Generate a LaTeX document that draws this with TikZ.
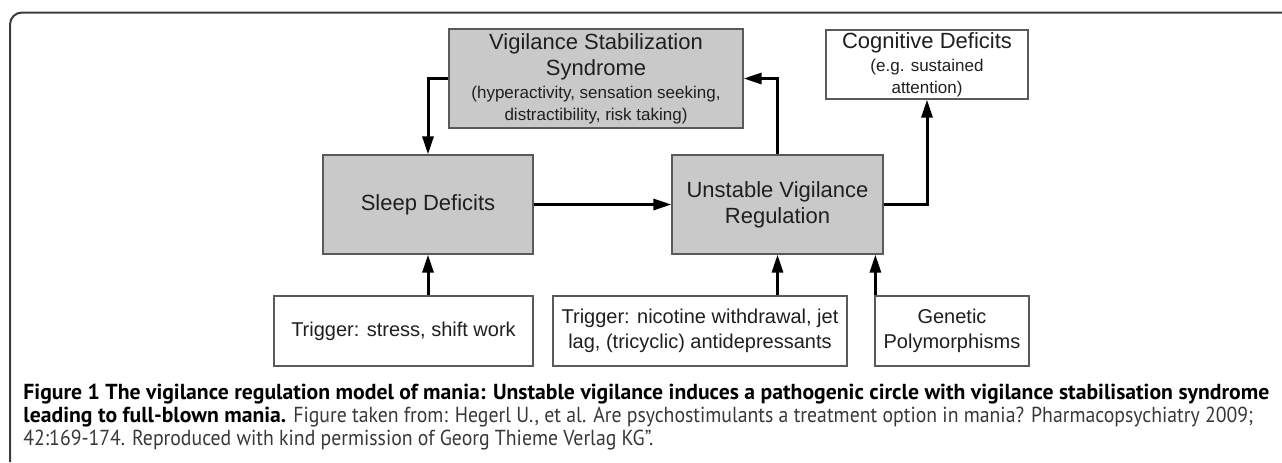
\documentclass[tikz,border=0pt]{standalone}
\usepackage{fontspec}
\setmainfont{Liberation Sans}
\newfontfamily\capfont{PT Sans}[FakeStretch=0.91]
\newfontfamily\capbf{PT Sans}
\usetikzlibrary{arrows.meta}
\definecolor{boxgray}{RGB}{201,201,201}
\definecolor{boxline}{RGB}{90,90,90}
\definecolor{framegray}{RGB}{60,60,60}
\newcommand{\subtxt}{\fontsize{8.5}{10.5}\selectfont}

\begin{document}
\begin{tikzpicture}[x=0.5pt,y=-0.5pt,
  graybox/.style={draw=boxline, fill=boxgray, line width=0.6pt, align=center,
    inner sep=0pt, text=black!88, font=\fontsize{11}{13}\selectfont},
  whitebox/.style={graybox, fill=white},
  flow/.style={line width=1.5pt, -{Triangle[length=9pt,width=5.5pt]}},
  capline/.style={anchor=base west, inner sep=0pt, text=black!78,
    font=\capfont\fontsize{10.85}{13}\selectfont},
  capbold/.style={font=\capbf\bfseries\fontsize{10.85}{13}\selectfont}]
  \useasboundingbox (0,0) rectangle (1282,462);
  % frame
  \draw[framegray, line width=1pt, rounded corners=6pt] (10,462) -- (10,12.5) -- (1282,12.5);
  % boxes
  \node[graybox, minimum width=147pt, minimum height=49.5pt] (vss) at (596,78.5)
    {Vigilance Stabilization\\Syndrome\\[-1.5pt]{\subtxt (hyperactivity, sensation seeking,}\\[-2pt]{\subtxt distractibility, risk taking)}};
  \node[whitebox, minimum width=101pt, minimum height=34.5pt] (cog) at (927,64.5)
    {Cognitive Deficits\\[-1.5pt]{\subtxt (e.g. sustained}\\[-2pt]{\subtxt attention)}};
  \node[graybox, minimum width=105pt, minimum height=49.5pt] (sleep) at (428,204.5) {Sleep Deficits};
  \node[graybox, minimum width=105.5pt, minimum height=49.5pt] (uvr) at (777.5,204.5) {Unstable Vigilance\\Regulation};
  \node[whitebox, minimum width=129.5pt, minimum height=35pt, font=\fontsize{10}{12.5}\selectfont] (trig1) at (403.5,331)
    {Trigger: stress, shift work};
  \node[whitebox, minimum width=147pt, minimum height=35pt, font=\fontsize{10}{12.5}\selectfont] (trig2) at (700,331)
    {Trigger: nicotine withdrawal, jet\\lag, (tricyclic) antidepressants};
  \node[whitebox, minimum width=77pt, minimum height=35pt, font=\fontsize{10}{12.5}\selectfont] (gen) at (952,331)
    {Genetic\\Polymorphisms};
  % arrows
  \draw[flow] (vss.west) -| (sleep.north);
  \draw[flow] (uvr.north) |- (vss.east);
  \draw[flow] (sleep.east) -- (uvr.west);
  \draw[flow] (uvr.east) -| (cog.south);
  \draw[flow] (sleep.south |- trig1.north) -- (sleep.south);
  \draw[flow] (uvr.south |- trig2.north) -- (uvr.south);
  \draw[flow] ([xshift=0.5pt]gen.north west) -- ([xshift=0.5pt]gen.north west |- uvr.south);
  % caption
  \node[capline, capbold, text=black] (cap1) at (23,399)
    {Figure 1 The vigilance regulation model of mania: Unstable vigilance induces a pathogenic circle with vigilance stabilisation syndrome};
  \node[capline] (cap2) at (23,422)
    {{\capbf\bfseries\color{black}leading to full-blown mania.} Figure taken from: Hegerl U., et al. Are psychostimulants a treatment option in mania? Pharmacopsychiatry 2009;};
  \node[capline] (cap3) at (23,445)
    {42:169-174. Reproduced with kind permission of Georg Thieme Verlag KG”.};
\end{tikzpicture}
\end{document}
